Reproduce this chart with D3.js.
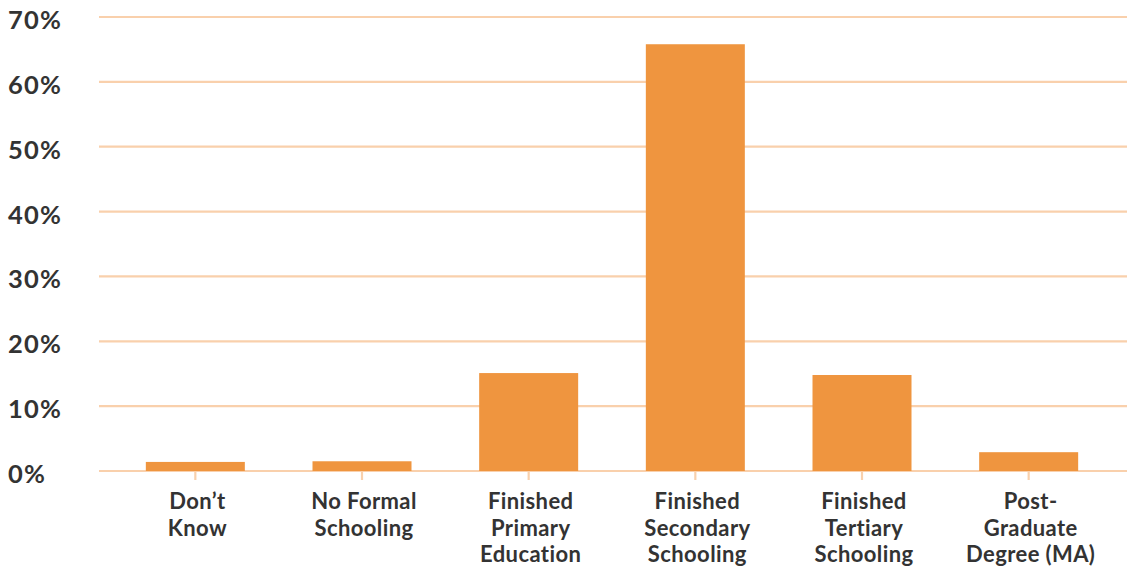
<!DOCTYPE html>
<html>
<head>
<meta charset="utf-8">
<script src="https://cdn.jsdelivr.net/npm/d3@7"></script>
<style>
  html, body { margin: 0; padding: 0; background: #fff; }
  svg { display: block; }
  text { font-family: Lato, "Open Sans", sans-serif; font-weight: 700; fill: #333333; }
</style>
</head>
<body>
<svg id="chart" width="1127" height="569"></svg>
<script>
const categories = [
  ["Don\u2019t", "Know"],
  ["No Formal", "Schooling"],
  ["Finished", "Primary", "Education"],
  ["Finished", "Secondary", "Schooling"],
  ["Finished", "Tertiary", "Schooling"],
  ["Post-", "Graduate", "Degree (MA)"]
];
const values = [1.4, 1.5, 15.1, 65.8, 14.8, 2.9];
const yTicks = [0, 10, 20, 30, 40, 50, 60, 70];

const svg = d3.select("#chart");
const gridColor = "#F9D0AC";
const barColor = "#EF953F";

const ids = categories.map((c, i) => i);
const x = d3.scaleBand().domain(ids).range([112, 1112]).paddingInner(0.406).paddingOuter(0.203);
const y = d3.scaleLinear().domain([0, 70]).range([471, 17]);

// gridlines
svg.append("g").selectAll("line").data(yTicks).join("line")
  .attr("x1", 99).attr("x2", 1127)
  .attr("y1", d => y(d)).attr("y2", d => y(d))
  .attr("stroke", gridColor).attr("stroke-width", 2.2);

// y labels
svg.append("g").selectAll("text").data(yTicks).join("text")
  .attr("x", 8).attr("y", d => y(d) + 12)
  .attr("font-size", 25.5)
  .attr("letter-spacing", 1.2)
  .attr("text-anchor", "start")
  .text(d => d + "%");

// x ticks
svg.append("g").selectAll("line").data(ids).join("line")
  .attr("x1", d => x(d) + x.bandwidth() / 2).attr("x2", d => x(d) + x.bandwidth() / 2)
  .attr("y1", y(0)).attr("y2", y(0) + 9)
  .attr("stroke", gridColor).attr("stroke-width", 2.2);

// bars
svg.append("g").selectAll("rect").data(values).join("rect")
  .attr("x", (d, i) => x(i))
  .attr("width", x.bandwidth())
  .attr("y", d => y(d))
  .attr("height", d => y(0) - y(d))
  .attr("fill", barColor);

// category labels
const lab = svg.append("g").selectAll("text").data(categories).join("text")
  .attr("text-anchor", "middle")
  .attr("font-size", 22)
  .attr("letter-spacing", 0.4)
  .attr("transform", (d, i) => `translate(${x(i) + x.bandwidth() / 2 + 2},509)`);
lab.selectAll("tspan").data(d => d).join("tspan")
  .attr("x", 0)
  .attr("y", (d, j) => j * 26.5)
  .text(d => d);
</script>
</body>
</html>
